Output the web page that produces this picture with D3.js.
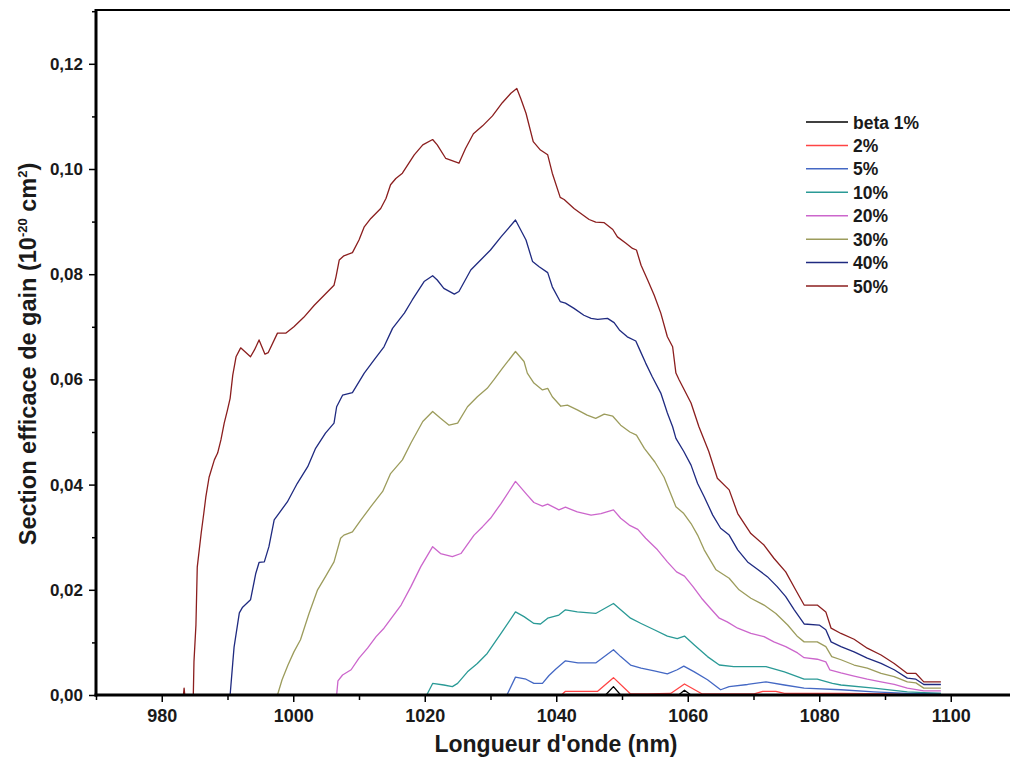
<!DOCTYPE html>
<html>
<head>
<meta charset="utf-8">
<script src="https://cdn.jsdelivr.net/npm/d3@7"></script>
<style>
  html, body { margin: 0; padding: 0; background: #fff; }
  svg { display: block; }
  text { font-family: "Liberation Sans", Arial, Helvetica, sans-serif; font-weight: bold; fill: #1a1a1a; }
</style>
</head>
<body>
<svg id="chart" width="1010" height="758"></svg>
<script>
// ---- Data (wavelength nm, gain cross-section 1e-20 cm²) ----
const seriesNames = ["beta 1%", "2%", "5%", "10%", "20%", "30%", "40%", "50%"];
const seriesColors = ["#000000", "#ff4444", "#4468c4", "#2a9a96", "#cc66cc", "#9c9c5c", "#1f2a80", "#8b1e1e"];

const beta1 = [[1039.5,0],[1047.5,0],[1048.7,0.0016],[1049.8,0],[1058.6,0],[1059.5,0.0009],[1060.5,0],[1098.5,0]];

const beta2 = [[1040.8,0],[1041.4,0.0007],[1046.3,0.0007],[1048.7,0.0033],[1051.3,0.0002],[1053.9,0.0002],
  [1057.4,0.0003],[1059.5,0.0021],[1062.2,0.0002],[1070.1,0.0002],[1071.4,0.0007],[1073.4,0.0007],
  [1074.7,0.0003],[1083.3,0.0003],[1098.5,0.0001]];

const beta5 = [[1032.5,0],[1033.8,0.0034],[1035.4,0.0030],[1036.6,0.0022],[1037.9,0.0022],[1038.9,0.0037],
  [1039.9,0.0049],[1041.4,0.0065],[1043.3,0.0061],[1046.0,0.0061],[1048.7,0.0086],[1049.8,0.0073],
  [1051.3,0.0057],[1052.9,0.0051],[1054.9,0.0046],[1056.9,0.0040],[1058.4,0.0048],[1059.4,0.0055],
  [1061.0,0.0044],[1063.0,0.0029],[1065.0,0.0010],[1066.3,0.0016],[1069.1,0.0020],[1071.9,0.0025],
  [1074.7,0.0019],[1077.7,0.0013],[1083.3,0.0010],[1088.3,0.0006],[1093.4,0.0003],[1098.5,0.0003]];

const beta10 = [[1020.3,0],[1021.2,0.0022],[1022.9,0.0019],[1024.2,0.0016],[1025.0,0.0022],[1026.5,0.0044],
  [1028.0,0.0060],[1029.5,0.0079],[1031.6,0.0117],[1033.8,0.0158],[1035.1,0.0149],[1036.6,0.0136],
  [1037.6,0.0135],[1038.7,0.0146],[1040.4,0.0152],[1041.4,0.0162],[1043.2,0.0158],[1046.0,0.0155],
  [1048.7,0.0174],[1049.8,0.0162],[1051.3,0.0146],[1052.9,0.0136],[1054.9,0.0124],[1056.9,0.0112],
  [1058.4,0.0107],[1059.5,0.0112],[1061.0,0.0095],[1063.0,0.0073],[1064.8,0.0057],[1067.0,0.0054],
  [1071.9,0.0054],[1074.7,0.0044],[1077.7,0.0030],[1079.7,0.0030],[1082.0,0.0022],[1083.3,0.0019],
  [1088.3,0.0013],[1093.4,0.0006],[1098.5,0.0003]];

const beta20 = [[1006.6,0],[1006.8,0.0027],[1007.5,0.0038],[1008.8,0.0048],[1010.0,0.0070],[1011.3,0.0089],
  [1012.6,0.0111],[1013.8,0.0127],[1015.1,0.0149],[1016.4,0.0171],[1017.9,0.0206],[1019.4,0.0244],
  [1021.2,0.0282],[1022.4,0.0269],[1024.2,0.0263],[1025.5,0.0269],[1027.5,0.0304],[1028.8,0.0320],
  [1030.0,0.0336],[1031.6,0.0364],[1033.8,0.0406],[1035.6,0.0380],[1036.6,0.0366],[1037.9,0.0359],
  [1038.7,0.0363],[1040.4,0.0352],[1041.4,0.0357],[1043.2,0.0348],[1045.3,0.0342],[1046.8,0.0345],
  [1048.7,0.0352],[1049.8,0.0336],[1051.1,0.0323],[1052.4,0.0315],[1053.6,0.0298],[1055.4,0.0276],
  [1056.9,0.0253],[1058.3,0.0234],[1059.5,0.0226],[1060.8,0.0206],[1062.1,0.0184],[1063.5,0.0164],
  [1064.8,0.0146],[1066.0,0.0139],[1067.6,0.0127],[1069.6,0.0117],[1071.6,0.0111],[1073.1,0.0101],
  [1074.9,0.0092],[1076.7,0.0080],[1077.7,0.0071],[1079.7,0.0068],[1081.0,0.0063],[1081.6,0.0048],
  [1083.3,0.0042],[1085.3,0.0036],[1087.3,0.0030],[1089.4,0.0025],[1091.4,0.0020],[1093.4,0.0013],
  [1095.9,0.0008],[1098.5,0.0008]];

const beta30 = [[997.6,0],[998.3,0.0029],[999.2,0.0057],[1000.1,0.0082],[1001.1,0.0105],[1002.4,0.0155],
  [1003.7,0.0200],[1004.9,0.0225],[1006.2,0.0253],[1007.2,0.0298],[1007.7,0.0304],[1009.0,0.0310],
  [1010.3,0.0333],[1011.8,0.0358],[1013.6,0.0387],[1014.8,0.0421],[1016.6,0.0447],[1017.9,0.0479],
  [1019.7,0.0520],[1021.2,0.0539],[1022.4,0.0526],[1023.7,0.0513],[1025.0,0.0517],[1026.5,0.0548],
  [1028.0,0.0567],[1029.5,0.0583],[1030.5,0.0599],[1031.8,0.0621],[1033.8,0.0653],[1035.1,0.0634],
  [1035.6,0.0612],[1036.6,0.0593],[1037.9,0.0580],[1038.7,0.0583],[1039.4,0.0567],[1040.7,0.0549],
  [1041.7,0.0551],[1043.2,0.0542],[1044.7,0.0532],[1046.0,0.0526],[1047.3,0.0534],[1048.6,0.0530],
  [1049.8,0.0513],[1051.2,0.0500],[1052.2,0.0494],[1053.4,0.0469],[1055.0,0.0443],[1056.4,0.0414],
  [1057.3,0.0386],[1058.2,0.0358],[1059.4,0.0345],[1060.5,0.0326],[1061.5,0.0304],[1062.5,0.0276],
  [1064.3,0.0238],[1066.3,0.0222],[1067.8,0.0200],[1069.6,0.0184],[1071.6,0.0171],[1073.4,0.0155],
  [1075.2,0.0133],[1076.7,0.0111],[1077.7,0.0101],[1079.7,0.0101],[1081.0,0.0092],[1081.9,0.0073],
  [1083.3,0.0067],[1085.3,0.0057],[1087.3,0.0051],[1089.4,0.0041],[1091.4,0.0035],[1093.4,0.0025],
  [1094.7,0.0023],[1095.9,0.0013],[1098.5,0.0013]];

const beta40 = [[990.4,0],[990.8,0.0061],[991.0,0.0091],[991.8,0.0156],[992.3,0.0167],[993.5,0.0181],
  [994.3,0.0231],[994.8,0.0252],[995.6,0.0253],[996.3,0.0282],[997.1,0.0333],[997.8,0.0345],
  [999.1,0.0367],[1000.6,0.0402],[1002.2,0.0434],[1003.4,0.0469],[1004.9,0.0498],[1006.2,0.0517],
  [1006.6,0.0548],[1007.5,0.0570],[1009.0,0.0575],[1010.8,0.0612],[1012.3,0.0637],[1013.8,0.0662],
  [1015.1,0.0697],[1016.9,0.0726],[1018.1,0.0751],[1019.9,0.0786],[1021.2,0.0797],[1021.9,0.0789],
  [1022.9,0.0773],[1024.5,0.0762],[1025.2,0.0767],[1027.0,0.0808],[1028.5,0.0827],[1030.0,0.0846],
  [1031.6,0.0871],[1033.8,0.0903],[1035.4,0.0865],[1036.4,0.0824],[1037.4,0.0814],[1038.7,0.0803],
  [1039.4,0.0776],[1040.6,0.0748],[1041.4,0.0745],[1042.7,0.0735],[1044.2,0.0722],[1045.3,0.0716],
  [1046.3,0.0714],[1047.8,0.0716],[1048.8,0.0708],[1049.6,0.0694],[1050.8,0.0681],[1052.1,0.0673],
  [1052.6,0.0659],[1053.6,0.0631],[1054.6,0.0605],[1055.9,0.0574],[1056.9,0.0536],[1057.7,0.0510],
  [1058.2,0.0488],[1059.4,0.0463],[1060.5,0.0437],[1061.5,0.0402],[1062.5,0.0377],[1063.8,0.0342],
  [1065.0,0.0317],[1066.3,0.0304],[1067.6,0.0276],[1069.1,0.0253],[1070.6,0.0239],[1072.1,0.0225],
  [1073.6,0.0206],[1074.9,0.0187],[1076.2,0.0162],[1077.7,0.0135],[1080.0,0.0133],[1081.0,0.0124],
  [1081.8,0.0101],[1083.3,0.0092],[1085.3,0.0082],[1087.3,0.0070],[1089.4,0.0060],[1091.4,0.0048],
  [1093.4,0.0032],[1094.7,0.0030],[1095.9,0.0020],[1098.5,0.0020]];

const beta50 = [[983.3,0],[983.4,0.0013],[983.5,0],[984.8,0],[984.9,0.0063],[985.2,0.0133],[985.4,0.0243],
  [986.0,0.0308],[986.4,0.0346],[986.7,0.0376],[987.2,0.0414],[988.0,0.0447],[988.5,0.0460],
  [989.0,0.0485],[989.5,0.0517],[990.0,0.0542],[990.4,0.0564],[990.8,0.0608],[991.3,0.0643],
  [992.0,0.0660],[993.5,0.0643],[994.1,0.0656],[994.8,0.0675],[995.7,0.0648],[996.2,0.0651],
  [997.6,0.0688],[998.9,0.0688],[1000.1,0.0700],[1001.6,0.0718],[1003.2,0.0741],[1004.7,0.0760],
  [1006.2,0.0779],[1006.5,0.0795],[1007.0,0.0827],[1007.7,0.0835],[1009.0,0.0841],[1010.0,0.0865],
  [1010.8,0.0890],[1011.8,0.0906],[1013.3,0.0925],[1014.1,0.0944],[1014.8,0.0970],[1015.6,0.0982],
  [1016.6,0.0992],[1018.4,0.1027],[1019.7,0.1046],[1021.2,0.1056],[1021.9,0.1046],[1023.2,0.1020],
  [1025.2,0.1011],[1026.2,0.1039],[1027.4,0.1067],[1028.8,0.1082],[1030.3,0.1101],[1031.8,0.1126],
  [1033.1,0.1144],[1034.0,0.1153],[1034.6,0.1134],[1035.4,0.1106],[1036.5,0.1052],[1037.6,0.1036],
  [1038.7,0.1027],[1039.4,0.0992],[1040.6,0.0946],[1041.2,0.0942],[1042.7,0.0925],[1044.0,0.0913],
  [1045.0,0.0904],[1046.0,0.0899],[1047.3,0.0898],[1048.6,0.0885],[1049.3,0.0871],[1050.6,0.0859],
  [1051.6,0.0849],[1052.2,0.0846],[1052.9,0.0817],[1053.9,0.0789],[1054.9,0.0760],[1055.9,0.0726],
  [1056.9,0.0681],[1057.7,0.0662],[1058.2,0.0612],[1058.7,0.0599],[1060.5,0.0555],[1061.7,0.0510],
  [1063.2,0.0463],[1064.5,0.0412],[1066.3,0.0390],[1067.6,0.0345],[1069.6,0.0307],[1071.6,0.0285],
  [1073.1,0.0260],[1074.9,0.0234],[1076.4,0.0200],[1077.7,0.0171],[1079.7,0.0171],[1081.0,0.0158],
  [1081.8,0.0127],[1083.3,0.0117],[1085.3,0.0106],[1087.3,0.0089],[1089.4,0.0076],[1091.4,0.0060],
  [1093.4,0.0041],[1094.7,0.0041],[1095.9,0.0025],[1098.5,0.0025]];

const seriesData = [beta1, beta2, beta5, beta10, beta20, beta30, beta40, beta50];

const xMajorTicks = [980, 1000, 1020, 1040, 1060, 1080, 1100];
const xMinorTicks = [970, 990, 1010, 1030, 1050, 1070, 1090, 1110];
const yMajorTicks = [0, 0.02, 0.04, 0.06, 0.08, 0.10, 0.12];
const yMinorTicks = [0.01, 0.03, 0.05, 0.07, 0.09, 0.11, 0.13];

const xTitle = "Longueur d'onde (nm)";

// ---- Drawing ----
const svg = d3.select("#chart");
const x = d3.scaleLinear().domain([970, 1110]).range([96, 1016.5]);
const y = d3.scaleLinear().domain([0, 0.13]).range([695, 11.2]);

const fmtY = v => d3.format(".2f")(v).replace(".", ",");
const tickFont = "'Liberation Sans Narrow', 'Arial Narrow', 'Liberation Sans', Arial, sans-serif";

// series lines
const line = d3.line().x(d => x(d[0])).y(d => y(d[1]));
svg.append("g").selectAll("path")
  .data(seriesData)
  .join("path")
  .attr("d", d => line(d))
  .attr("fill", "none")
  .attr("stroke", (d, i) => seriesColors[i])
  .attr("stroke-width", 1.3)
  .attr("stroke-linejoin", "round");

// top frame line
svg.append("line").attr("x1", 96).attr("x2", 1010).attr("y1", 10).attr("y2", 10)
  .attr("stroke", "#000").attr("stroke-width", 2);

// bottom axis
const xAxis = svg.append("g").attr("transform", "translate(0,695)")
  .call(d3.axisBottom(x).tickValues(xMajorTicks).tickSize(7).tickPadding(7).tickFormat(d3.format("d")));
xAxis.select(".domain").remove();
xAxis.selectAll(".tick line").attr("stroke", "#000").attr("stroke-width", 1.5);
xAxis.selectAll(".tick text").attr("font-size", 18).attr("fill", "#1a1a1a")
  .attr("font-family", tickFont).attr("font-weight", "bold");
const xMinor = svg.append("g").attr("transform", "translate(0,695)")
  .call(d3.axisBottom(x).tickValues(xMinorTicks).tickSize(5).tickFormat(""));
xMinor.select(".domain").remove();
xMinor.selectAll(".tick line").attr("stroke", "#000").attr("stroke-width", 1.5);
svg.append("line").attr("x1", 94.5).attr("x2", 1010).attr("y1", y(0)).attr("y2", y(0))
  .attr("stroke", "#000").attr("stroke-width", 3);

// left axis
const yAxis = svg.append("g").attr("transform", "translate(96,0)")
  .call(d3.axisLeft(y).tickValues(yMajorTicks).tickSize(7).tickPadding(6).tickFormat(fmtY));
yAxis.select(".domain").remove();
yAxis.selectAll(".tick line").attr("stroke", "#000").attr("stroke-width", 1.5);
yAxis.selectAll(".tick text").attr("font-size", 17).attr("fill", "#1a1a1a")
  .attr("font-family", tickFont).attr("font-weight", "bold");
const yMinor = svg.append("g").attr("transform", "translate(96,0)")
  .call(d3.axisLeft(y).tickValues(yMinorTicks).tickSize(4).tickFormat(""));
yMinor.select(".domain").remove();
yMinor.selectAll(".tick line").attr("stroke", "#000").attr("stroke-width", 1.5);
svg.append("line").attr("x1", 96).attr("x2", 96).attr("y1", 9).attr("y2", 696.5)
  .attr("stroke", "#000").attr("stroke-width", 3);

// axis titles
svg.append("text").attr("x", 556).attr("y", 752).attr("text-anchor", "middle")
  .attr("font-size", 23).text(xTitle);

const yt = svg.append("text").attr("transform", "translate(36,354) rotate(-90)")
  .attr("text-anchor", "middle").attr("font-size", 23.5);
yt.append("tspan").text("Section efficace de gain (10");
yt.append("tspan").attr("dy", -9).attr("font-size", 13).text("-20");
yt.append("tspan").attr("dy", 9).text(" cm");
yt.append("tspan").attr("dy", -9).attr("font-size", 13).text("2");
yt.append("tspan").attr("dy", 9).text(")");

// legend
const legY = d3.scalePoint().domain(seriesNames).range([122, 286]);
const leg = svg.append("g");
seriesNames.forEach((name, i) => {
  const yy = legY(name);
  leg.append("line").attr("x1", 806).attr("x2", 848).attr("y1", yy).attr("y2", yy)
    .attr("stroke", seriesColors[i]).attr("stroke-width", 1.5);
  leg.append("text").attr("x", 853).attr("y", yy + 6.5).attr("font-size", 17.5).text(name);
});
</script>
</body>
</html>
